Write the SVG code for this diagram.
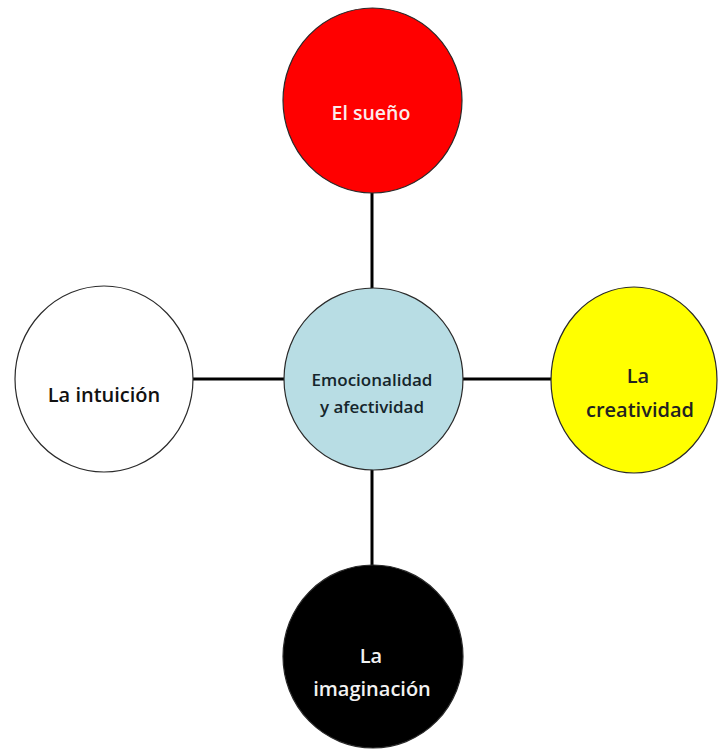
<svg xmlns="http://www.w3.org/2000/svg" width="719" height="751" viewBox="0 0 719 751">
<style>
.n{stroke:#2a2a2a;stroke-width:1.2}
.t{font-family:"Open Sans","Liberation Sans",sans-serif;font-weight:600;text-anchor:middle}
.c{stroke:#000;stroke-width:3;fill:none}
</style>
<rect width="719" height="751" fill="#fff"/>
<g id="connectors">
<line class="c" x1="372" y1="193" x2="372" y2="289"/>
<line class="c" x1="372" y1="469" x2="372" y2="566"/>
<line class="c" x1="193" y1="379" x2="285" y2="379"/>
<line class="c" x1="462" y1="379" x2="552" y2="379"/>
</g>
<g id="sueno">
<ellipse class="n" cx="372.5" cy="100.5" rx="89.5" ry="92.5" fill="#ff0000"/>
<text class="t" x="371" y="120" font-size="19.5" fill="#fbecec">El sueño</text>
</g>
<g id="emocionalidad">
<ellipse class="n" cx="373.5" cy="379" rx="89.5" ry="91" fill="#b8dde4"/>
<text class="t" x="372" y="386" font-size="17" fill="#15252b">Emocionalidad</text>
<text class="t" x="372" y="413" font-size="17" fill="#15252b">y afectividad</text>
</g>
<g id="intuicion">
<ellipse class="n" cx="104" cy="379" rx="89" ry="93" fill="#fff"/>
<text class="t" x="104" y="402" font-size="20" fill="#111">La intuición</text>
</g>
<g id="creatividad">
<ellipse class="n" cx="634" cy="380" rx="83" ry="93" fill="#ffff00"/>
<text class="t" x="638" y="383" font-size="20" fill="#222">La</text>
<text class="t" x="640" y="417" font-size="20" fill="#222">creatividad</text>
</g>
<g id="imaginacion">
<ellipse class="n" cx="373" cy="656.5" rx="90" ry="91.5" fill="#000"/>
<text class="t" x="371" y="663" font-size="20" fill="#f2f2f2">La</text>
<text class="t" x="372" y="696" font-size="20" fill="#f2f2f2">imaginación</text>
</g>
</svg>
